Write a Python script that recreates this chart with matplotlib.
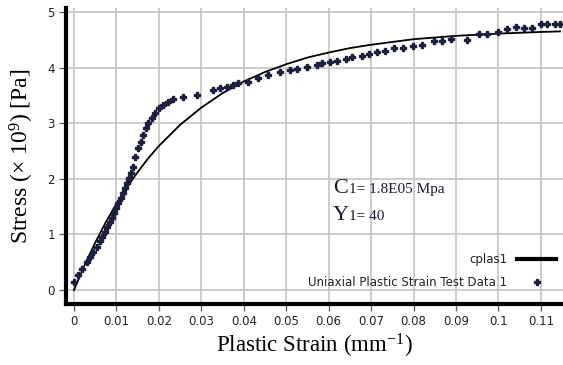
import numpy as np
import matplotlib
matplotlib.use("Agg")
import matplotlib.pyplot as plt

# fitted hardening curve (cplas1)
curve_strain = [0.0, 0.0025, 0.005, 0.0075, 0.01, 0.0125, 0.015, 0.0175, 0.02,
                0.025, 0.03, 0.035, 0.04, 0.045, 0.05, 0.055, 0.06, 0.065,
                0.07, 0.08, 0.09, 0.1, 0.11, 0.1145]
curve_stress = [0.0, 0.45, 0.85, 1.22, 1.55, 1.85, 2.12, 2.37, 2.59,
                2.97, 3.28, 3.54, 3.75, 3.92, 4.06, 4.18, 4.27, 4.35,
                4.41, 4.51, 4.57, 4.61, 4.64, 4.65]

# uniaxial test data
test_strain = [0.0000, 0.0009, 0.0019, 0.0031, 0.0038, 0.0045, 0.0054, 0.0061,
               0.0066, 0.0073, 0.0078, 0.0085, 0.0089, 0.0094, 0.0100, 0.0104,
               0.0111, 0.0115, 0.0120, 0.0125, 0.0130, 0.0135, 0.0139, 0.0144,
               0.0150, 0.0158, 0.0163, 0.0170, 0.0175, 0.0183, 0.0190, 0.0201,
               0.0209, 0.0221, 0.0233, 0.0256, 0.0290,
               0.0327, 0.0344, 0.0360, 0.0374, 0.0386, 0.0410, 0.0433, 0.0456,
               0.0485, 0.0508, 0.0525, 0.0548, 0.0572, 0.0584, 0.0602, 0.0619,
               0.0642, 0.0656, 0.0678, 0.0696, 0.0715,
               0.0732, 0.0755, 0.0774, 0.0798, 0.0821, 0.0849, 0.0868, 0.0889,
               0.0925, 0.0955, 0.0974, 0.0998, 0.1019, 0.1042, 0.1061, 0.1080,
               0.1101, 0.1115, 0.1132, 0.1144]
test_stress = [0.14, 0.27, 0.38, 0.50, 0.60, 0.68, 0.78, 0.88,
               0.96, 1.05, 1.13, 1.22, 1.30, 1.39, 1.48, 1.56,
               1.66, 1.74, 1.83, 1.92, 2.01, 2.10, 2.22, 2.39,
               2.55, 2.66, 2.79, 2.91, 3.00, 3.09, 3.18, 3.27,
               3.33, 3.38, 3.44, 3.47, 3.51,
               3.60, 3.63, 3.65, 3.69, 3.72, 3.74, 3.81, 3.87,
               3.92, 3.96, 3.97, 4.01, 4.05, 4.08, 4.10, 4.12,
               4.15, 4.19, 4.21, 4.24, 4.28,
               4.30, 4.35, 4.35, 4.39, 4.41, 4.48, 4.48, 4.51,
               4.50, 4.60, 4.60, 4.64, 4.69, 4.73, 4.71, 4.71,
               4.78, 4.78, 4.78, 4.78]

x_ticks = [0, 0.01, 0.02, 0.03, 0.04, 0.05, 0.06, 0.07, 0.08, 0.09, 0.1, 0.11]
x_ticklabels = ['0', '0.01', '0.02', '0.03', '0.04', '0.05', '0.06', '0.07',
                '0.08', '0.09', '0.1', '0.11']
y_ticks = [0, 1, 2, 3, 4, 5]

plt.rcParams['mathtext.fontset'] = 'custom'
plt.rcParams['mathtext.rm'] = 'Liberation Serif'
plt.rcParams['mathtext.it'] = 'Liberation Serif:italic'

fig = plt.figure(figsize=(5.63, 3.65), dpi=100)
ax = fig.add_axes([0.117, 0.167, 0.883, 0.811])

ax.grid(True, color='#c4c4c4', linewidth=1.2)
ax.set_axisbelow(True)

ax.plot(curve_strain, curve_stress, color='black', linewidth=1.3, label='cplas1')
ax.plot(test_strain, test_stress, linestyle='none', marker='P', markersize=4.4,
        color='#1c1f3d', label='Uniaxial Plastic Strain Test Data 1')

ax.set_xlim(-0.0019, 0.1152)
ax.set_ylim(-0.25, 5.07)
ax.set_xticks(x_ticks)
ax.set_xticklabels(x_ticklabels)
ax.set_yticks(y_ticks)

for s in ['top', 'right']:
    ax.spines[s].set_visible(False)
for s in ['left', 'bottom']:
    ax.spines[s].set_linewidth(3)
    ax.spines[s].set_color('black')

ax.tick_params(axis='both', length=5, width=1, color='#666666', pad=3,
               labelsize=8.5, labelcolor='#222222')

serif = ['Liberation Serif', 'DejaVu Serif']
ax.set_xlabel('Plastic Strain (mm$^{-1}$)', fontsize=16.5, family=serif, labelpad=3)
ax.set_ylabel('Stress (× 10$^{9}$) [Pa]', fontsize=17, family=serif, labelpad=8)

# material constants
txt_color = '#1a1a2e'
fig.text(0.591, 0.471, 'C', fontsize=16, family=serif, color=txt_color, va='baseline')
fig.text(0.620, 0.471, '1= 1.8E05 Mpa', fontsize=11, family=serif, color=txt_color, va='baseline')
fig.text(0.591, 0.397, 'Y', fontsize=16, family=serif, color=txt_color, va='baseline')
fig.text(0.620, 0.397, '1= 40', fontsize=11, family=serif, color=txt_color, va='baseline')

leg = ax.legend(loc='lower right', bbox_to_anchor=(1.005, 0.02), frameon=False,
                markerfirst=False, fontsize=8.5, handlelength=3.3,
                handletextpad=0.85, labelspacing=0.85, borderpad=0.3)
for t in leg.get_texts():
    t.set_color('#222222')
leg.get_lines()[0].set_linewidth(3)

fig.savefig('out.png', dpi=100)
